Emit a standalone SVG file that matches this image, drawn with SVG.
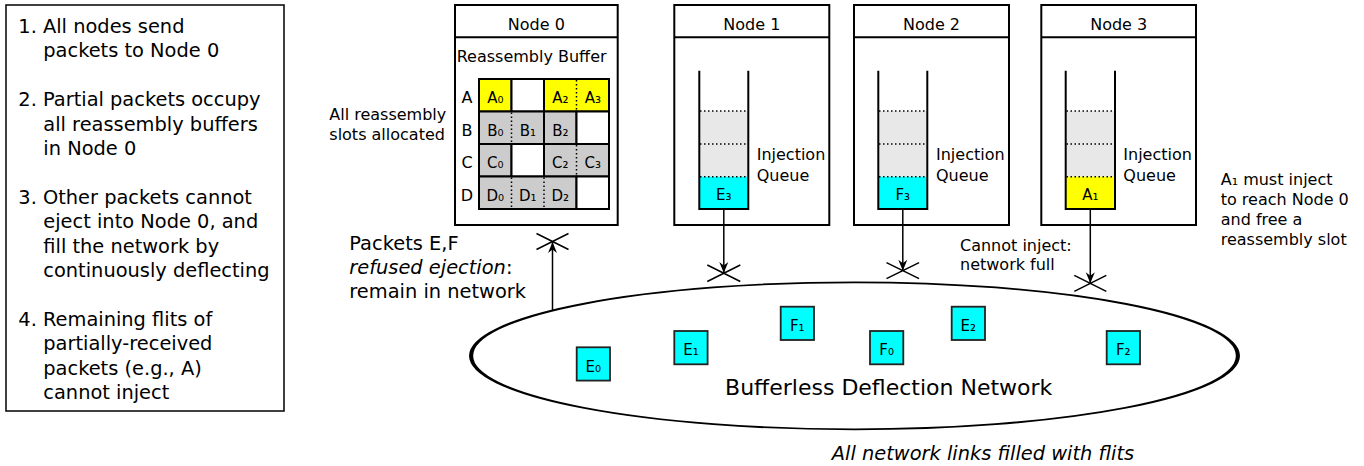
<svg xmlns="http://www.w3.org/2000/svg" width="1364" height="466" viewBox="0 0 1364 466">
<style>
text{font-family:"DejaVu Sans","Liberation Sans",sans-serif;fill:#000}
.t16{font-size:16px}
.t19{font-size:19.4px}
.lbl{font-size:15px;text-anchor:middle}
.box{fill:#fff;stroke:#000;stroke-width:2}
.gray{fill:#cccccc;stroke:#000;stroke-width:2}
.yel{fill:#ffff00;stroke:#000;stroke-width:2}
.wht{fill:#fff;stroke:#000;stroke-width:2}
.dot{stroke:#000;stroke-width:1.5;stroke-dasharray:1.5 2.5;fill:none}
.wall{fill:none;stroke:#000;stroke-width:2}
.flit{fill:#00ffff;stroke:#222;stroke-width:1.8}
.conn{stroke:#000;stroke-width:1.5;fill:none}
.xm{stroke:#000;stroke-width:1.5;fill:none}
</style>
<defs>
<marker id="ah" markerUnits="userSpaceOnUse" markerWidth="14" markerHeight="12" viewBox="-12 -6 14 12" refX="0" refY="0" orient="auto">
<path d="M0,0 L-11,-4.5 L-7.5,0 L-11,4.5 Z" fill="#000"/>
</marker>
</defs>

<g id="steps">
<rect x="6" y="5" width="278" height="406" fill="#fff" stroke="#000" stroke-width="1.5"/>
<text class="t19">
<tspan x="18.3" y="33">1. All nodes send</tspan>
<tspan x="43.3" y="57.4">packets to Node 0</tspan>
<tspan x="18.3" y="106">2. Partial packets occupy</tspan>
<tspan x="43.3" y="130.6">all reassembly buffers</tspan>
<tspan x="43.3" y="155">in Node 0</tspan>
<tspan x="18.3" y="204">3. Other packets cannot</tspan>
<tspan x="43.3" y="228.4">eject into Node 0, and</tspan>
<tspan x="43.3" y="252.8">fill the network by</tspan>
<tspan x="43.3" y="277">continuously deflecting</tspan>
<tspan x="18.3" y="326">4. Remaining flits of</tspan>
<tspan x="43.3" y="350.4">partially-received</tspan>
<tspan x="43.3" y="374.8">packets (e.g., A)</tspan>
<tspan x="43.3" y="399">cannot inject</tspan>
</text>
</g>

<g id="network">
<ellipse cx="0" cy="0" rx="166.7" ry="73.5" transform="translate(854.5 355.8) scale(2.3 1)" fill="#fff" stroke="#000" stroke-width="1.8"/>
<text x="888.7" y="395" font-size="22" text-anchor="middle">Bufferless Deflection Network</text>
</g>

<g id="node0">
<rect class="box" x="455" y="5" width="162.7" height="220"/>
<line x1="455" y1="37.3" x2="617.7" y2="37.3" stroke="#000" stroke-width="2"/>
<text class="t16" x="536.3" y="30" text-anchor="middle">Node 0</text>
<text class="t16" x="456.7" y="62">Reassembly Buffer</text>
<g class="t16" text-anchor="middle">
<text x="467" y="103">A</text>
<text x="467" y="135.5">B</text>
<text x="467" y="168">C</text>
<text x="467" y="200.5">D</text>
</g>
<rect class="yel" x="479" y="79" width="32.5" height="32.5"/>
<rect class="wht" x="511.5" y="79" width="32.5" height="32.5"/>
<rect class="yel" x="544" y="79" width="65" height="32.5"/>
<line class="dot" x1="576.5" y1="80" x2="576.5" y2="110.5"/>
<rect class="gray" x="479" y="111.5" width="65" height="32.5"/>
<line class="dot" x1="511.5" y1="112.5" x2="511.5" y2="143"/>
<rect class="gray" x="544" y="111.5" width="32.5" height="32.5"/>
<rect class="wht" x="576.5" y="111.5" width="32.5" height="32.5"/>
<rect class="gray" x="479" y="144" width="32.5" height="32.5"/>
<rect class="wht" x="511.5" y="144" width="32.5" height="32.5"/>
<rect class="gray" x="544" y="144" width="65" height="32.5"/>
<line class="dot" x1="576.5" y1="145" x2="576.5" y2="175.5"/>
<rect class="gray" x="479" y="176.5" width="97.5" height="32.5"/>
<line class="dot" x1="511.5" y1="177.5" x2="511.5" y2="208"/>
<line class="dot" x1="544" y1="177.5" x2="544" y2="208"/>
<rect class="wht" x="576.5" y="176.5" width="32.5" height="32.5"/>
<g class="lbl">
<text x="495.3" y="103">A₀</text>
<text x="560.3" y="103">A₂</text>
<text x="592.8" y="103">A₃</text>
<text x="495.3" y="135.5">B₀</text>
<text x="527.8" y="135.5">B₁</text>
<text x="560.3" y="135.5">B₂</text>
<text x="495.3" y="168">C₀</text>
<text x="560.3" y="168">C₂</text>
<text x="592.8" y="168">C₃</text>
<text x="495.3" y="200.5">D₀</text>
<text x="527.8" y="200.5">D₁</text>
<text x="560.3" y="200.5">D₂</text>
</g>
</g>

<g id="node1">
<rect class="box" x="674.3" y="5" width="155" height="220"/>
<line x1="674.3" y1="37.3" x2="829.3" y2="37.3" stroke="#000" stroke-width="2"/>
<text class="t16" x="751.8" y="30" text-anchor="middle">Node 1</text>
<rect x="699.3" y="111" width="49" height="65.7" fill="#e8e8e8"/>
<rect x="699.3" y="176.7" width="49" height="32.3" fill="#00ffff"/>
<line class="dot" x1="700" y1="111" x2="748" y2="111"/>
<line class="dot" x1="700" y1="144" x2="748" y2="144"/>
<line class="dot" x1="700" y1="176.7" x2="748" y2="176.7"/>
<path class="wall" d="M699.3,70.7 V209 H748.3 V70.7"/>
<text class="lbl" x="723.8" y="200">E₃</text>
<text class="t16"><tspan x="756.7" y="160">Injection</tspan><tspan x="756.7" y="181">Queue</tspan></text>
</g>

<g id="node2">
<rect class="box" x="854" y="5" width="155" height="220"/>
<line x1="854" y1="37.3" x2="1009" y2="37.3" stroke="#000" stroke-width="2"/>
<text class="t16" x="931.5" y="30" text-anchor="middle">Node 2</text>
<rect x="878.3" y="111" width="49" height="65.7" fill="#e8e8e8"/>
<rect x="878.3" y="176.7" width="49" height="32.3" fill="#00ffff"/>
<line class="dot" x1="879" y1="111" x2="927" y2="111"/>
<line class="dot" x1="879" y1="144" x2="927" y2="144"/>
<line class="dot" x1="879" y1="176.7" x2="927" y2="176.7"/>
<path class="wall" d="M878.3,70.7 V209 H927.3 V70.7"/>
<text class="lbl" x="902.8" y="200">F₃</text>
<text class="t16"><tspan x="936" y="160">Injection</tspan><tspan x="936" y="181">Queue</tspan></text>
</g>

<g id="node3">
<rect class="box" x="1041.3" y="5" width="154.7" height="220"/>
<line x1="1041.3" y1="37.3" x2="1196" y2="37.3" stroke="#000" stroke-width="2"/>
<text class="t16" x="1118.7" y="30" text-anchor="middle">Node 3</text>
<rect x="1065.7" y="111" width="49.3" height="65.7" fill="#e8e8e8"/>
<rect x="1065.7" y="176.7" width="49.3" height="32.3" fill="#ffff00"/>
<line class="dot" x1="1066.5" y1="111" x2="1114.5" y2="111"/>
<line class="dot" x1="1066.5" y1="144" x2="1114.5" y2="144"/>
<line class="dot" x1="1066.5" y1="176.7" x2="1114.5" y2="176.7"/>
<path class="wall" d="M1065.7,70.7 V209 H1115 V70.7"/>
<text class="lbl" x="1090.3" y="200">A₁</text>
<text class="t16"><tspan x="1123.3" y="160">Injection</tspan><tspan x="1123.3" y="181">Queue</tspan></text>
</g>

<g id="flits">
<g id="flit-E0"><rect class="flit" x="576.7" y="347.3" width="33.3" height="33.3"/><text class="lbl" x="593.3" y="371.5">E₀</text></g>
<g id="flit-E1"><rect class="flit" x="674.3" y="331" width="33.3" height="33.3"/><text class="lbl" x="691" y="355.2">E₁</text></g>
<g id="flit-F1"><rect class="flit" x="780.7" y="306.7" width="33.3" height="33.3"/><text class="lbl" x="797.3" y="330.9">F₁</text></g>
<g id="flit-F0"><rect class="flit" x="870" y="331" width="33.3" height="33.3"/><text class="lbl" x="886.7" y="355.2">F₀</text></g>
<g id="flit-E2"><rect class="flit" x="951.7" y="306.7" width="33.3" height="33.3"/><text class="lbl" x="968.3" y="330.9">E₂</text></g>
<g id="flit-F2"><rect class="flit" x="1106.7" y="331" width="33.3" height="33.3"/><text class="lbl" x="1123.3" y="355.2">F₂</text></g>
</g>

<g id="connectors">
<line class="conn" x1="552.5" y1="310" x2="552.5" y2="242" marker-end="url(#ah)"/>
<line class="conn" x1="723.8" y1="209" x2="723.8" y2="273" marker-end="url(#ah)"/>
<line class="conn" x1="902.8" y1="209" x2="902.8" y2="270.7" marker-end="url(#ah)"/>
<line class="conn" x1="1090.3" y1="209" x2="1090.3" y2="283.3" marker-end="url(#ah)"/>
<path class="xm" d="M536.5,233.5 L568.5,249.5 M536.5,249.5 L568.5,233.5"/>
<path class="xm" d="M707.3,265 L740.3,281.5 M707.3,281.5 L740.3,265"/>
<path class="xm" d="M886.5,262.7 L919.1,278.7 M886.5,278.7 L919.1,262.7"/>
<path class="xm" d="M1074.3,275.3 L1106.3,291.3 M1074.3,291.3 L1106.3,275.3"/>
</g>

<g id="annotations">
<text class="t16"><tspan x="329.3" y="120">All reassembly</tspan><tspan x="329.3" y="140">slots allocated</tspan></text>
<text class="t19"><tspan x="349.3" y="250">Packets E,F</tspan><tspan x="349.3" y="274" font-style="italic">refused ejection</tspan><tspan>:</tspan><tspan x="349.3" y="298">remain in network</tspan></text>
<text class="t16"><tspan x="960" y="251">Cannot inject:</tspan><tspan x="960" y="270">network full</tspan></text>
<text class="t16"><tspan x="1220.7" y="185">A₁ must inject</tspan><tspan x="1220.7" y="205">to reach Node 0</tspan><tspan x="1220.7" y="225">and free a</tspan><tspan x="1220.7" y="245">reassembly slot</tspan></text>
<text class="t19" x="983" y="460" font-style="italic" text-anchor="middle">All network links filled with flits</text>
</g>
</svg>
